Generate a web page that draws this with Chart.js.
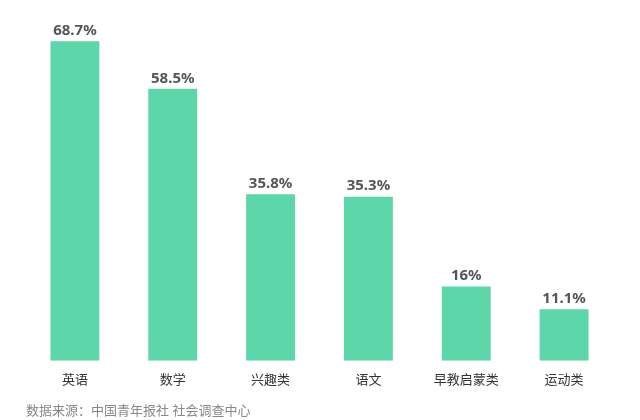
<!DOCTYPE html>
<html>
<head>
<meta charset="utf-8">
<script src="https://cdn.jsdelivr.net/npm/chart.js@4/dist/chart.umd.min.js"></script>
<style>
  html, body { margin: 0; padding: 0; background: #fff; }
  #wrap { width: 640px; height: 420px; }
</style>
</head>
<body>
<div id="wrap"><canvas id="chart"></canvas></div>
<script>
const categories = ["英语", "数学", "兴趣类", "语文", "早教启蒙类", "运动类"];
const shares = [68.7, 58.5, 35.8, 35.3, 16, 11.1];
const sourceNote = "数据来源：中国青年报社 社会调查中心";

const FONT = "'Noto Sans', 'Noto Sans CJK SC', sans-serif";
const BAR = "#5dd6a9";

// value labels above each bar
const valueLabels = {
  id: "valueLabels",
  afterDatasetsDraw(chart) {
    const { ctx } = chart;
    const meta = chart.getDatasetMeta(0);
    ctx.save();
    ctx.font = "bold 15px " + FONT;
    ctx.fillStyle = "#555";
    ctx.textAlign = "center";
    ctx.textBaseline = "bottom";
    meta.data.forEach((bar, i) => {
      ctx.fillText(shares[i] + "%", bar.x, bar.y - 3);
    });
    ctx.restore();
  },
};

const ctx = document.getElementById("chart").getContext("2d");
new Chart(ctx, {
  type: "bar",
  data: {
    labels: categories,
    datasets: [
      {
        data: shares,
        backgroundColor: BAR,
        barPercentage: 0.5,
        categoryPercentage: 1,
      },
    ],
  },
  options: {
    responsive: true,
    maintainAspectRatio: false,
    animation: false,
    layout: { padding: { top: 12, left: 26, right: 27, bottom: 1 } },
    scales: {
      x: {
        grid: { display: false },
        border: { display: false },
        ticks: {
          color: "#333",
          padding: 4,
          font: { size: 13, family: FONT },
        },
      },
      y: { display: false, min: 0, max: 75 },
    },
    plugins: {
      legend: { display: false },
      tooltip: { enabled: false },
      title: {
        display: true,
        text: sourceNote,
        position: "bottom",
        align: "start",
        color: "#888",
        padding: { top: 11, bottom: 0 },
        font: { size: 13, weight: "normal", family: FONT },
      },
    },
  },
  plugins: [valueLabels],
});
</script>
</body>
</html>
